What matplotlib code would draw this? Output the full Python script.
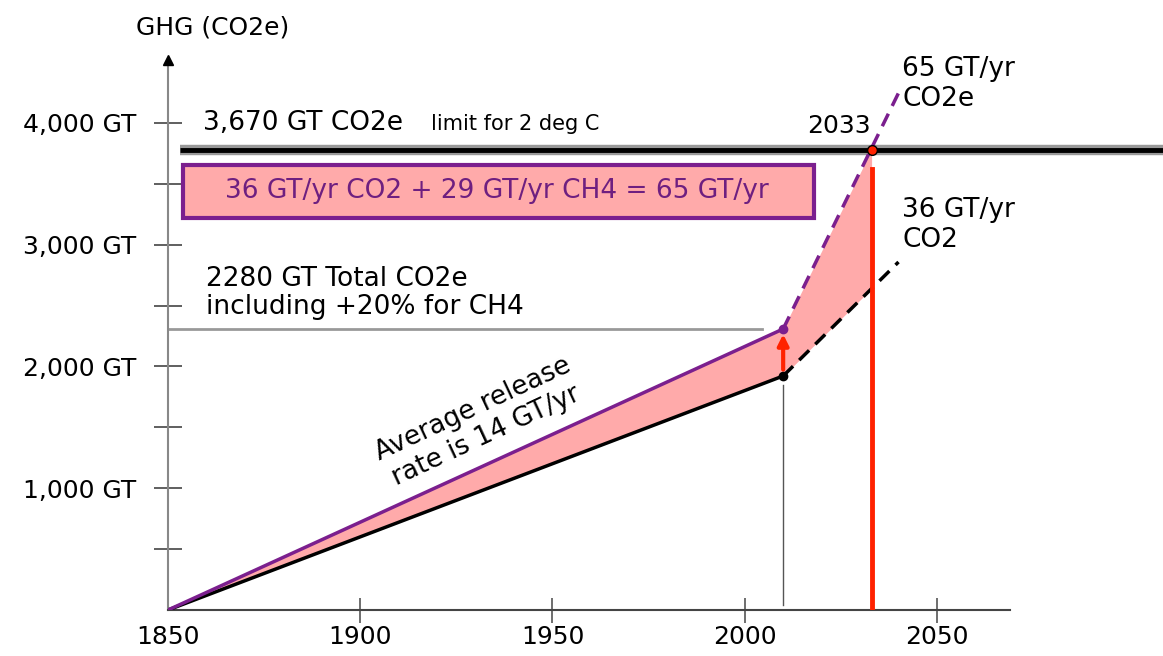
import numpy as np
import matplotlib.pyplot as plt
from matplotlib.patches import Rectangle

plt.rcParams['font.family'] = ['DejaVu Sans']

# values
years_hist = [1850, 2010]
co2_hist = [0, 1922]
co2e_hist = [0, 2308]
years_proj = [2010, 2040]
co2_proj = [1922, 2858]
co2e_proj = [2308, 4246]
fill_years = [1850, 2010, 2033]
fill_top = [0, 2308, 3780]
fill_bottom = [0, 1922, 2640]
limit_line = 3780
cross_year = 2033
red_top = 3620
total_2280 = 2308

xticks = [1850, 1900, 1950, 2000, 2050]
yticks = [500, 1000, 1500, 2000, 2500, 3000, 3500, 4000]
ylabels = ['', '1,000 GT', '', '2,000 GT', '', '3,000 GT', '', '4,000 GT']

purple = '#7b1f8e'
pink = '#ffaaaa'
red = '#ff2200'

fig = plt.figure(figsize=(11.63, 6.56), dpi=100)
ax = fig.add_axes([168/1163, 46/656, (1010-168)/1163, (610-60)/656])
ax.set_xlim(1850, 2069)
ax.set_ylim(0, 4517)

for s in ['top', 'right']:
    ax.spines[s].set_visible(False)
ax.spines['left'].set_color('#888888')
ax.spines['left'].set_linewidth(1.5)
ax.spines['bottom'].set_color('#444444')
ax.spines['bottom'].set_linewidth(1.5)
# arrow on top of y axis
ax.plot([1850], [4517], marker='^', color='black', markersize=7, clip_on=False, zorder=5)

ax.set_xticks(xticks)
ax.set_xticklabels([str(x) for x in xticks], fontsize=18)
ax.xaxis.get_major_ticks()[0].tick1line.set_visible(False)
ax.tick_params(axis='x', direction='inout', length=18, width=1.2, color='#555555', pad=2)
ax.set_yticks(yticks)
ax.set_yticklabels(ylabels, fontsize=18)
ax.tick_params(axis='y', direction='inout', length=20, width=1.2, color='#444444', pad=13)

# limit line (grey halo + black core), runs past the axes
ax.plot([1853, 2110], [limit_line, limit_line], color='#999999', lw=7.5, clip_on=False, solid_capstyle='butt', zorder=3)
ax.plot([1853, 2110], [limit_line, limit_line], color='black', lw=3.5, clip_on=False, solid_capstyle='butt', zorder=3)

# shaded gap between CO2 and CO2e
ax.fill_between(fill_years, fill_bottom, fill_top, color=pink, lw=0, zorder=1)

# grey guides
ax.plot([1850, 2004.5], [total_2280, total_2280], color='#999999', lw=2, zorder=2)
ax.plot([2010, 2010], [40, 1850], color='#555555', lw=1, zorder=2)

# lines
ax.plot(years_hist, co2_hist, color='black', lw=2.5, zorder=4)
ax.plot(years_hist, co2e_hist, color=purple, lw=2.5, zorder=4)
ax.plot(years_proj, co2_proj, color='black', lw=2.5, ls=(0, (4, 2.5)), zorder=4)
ax.plot(years_proj, co2e_proj, color=purple, lw=2.5, ls=(0, (4, 2.5)), zorder=4)

ax.plot([2010], [co2_hist[1]], 'o', color='black', markersize=6, zorder=6)
ax.plot([2010], [co2e_hist[1]], 'o', color=purple, markersize=6, zorder=6)
ax.annotate('', xy=(2010, co2e_hist[1] - 20), xytext=(2010, co2_hist[1] + 30),
            arrowprops=dict(arrowstyle='-|>', color=red, lw=3, mutation_scale=16), zorder=6)

# red vertical line at crossing year
ax.plot([cross_year, cross_year], [0, red_top], color=red, lw=3.5, zorder=5)
ax.plot([cross_year], [limit_line], 'o', color=red, markeredgecolor='black', markersize=7, zorder=7)

# texts
fig.text(213/1163, 1 - 27/656, 'GHG (CO2e)', ha='center', va='center', fontsize=18)
ax.text(1859, 4000, '3,670 GT CO2e', ha='left', va='center', fontsize=19)
ax.text(1918.5, 3990, 'limit for 2 deg C', ha='left', va='center', fontsize=15)
ax.text(2024.5, 3975, '2033', ha='center', va='center', fontsize=18)
ax.text(2041, 4320, '65 GT/yr\nCO2e', ha='left', va='center', fontsize=19, linespacing=1.2, clip_on=False)
ax.text(2041, 3165, '36 GT/yr\nCO2', ha='left', va='center', fontsize=19, linespacing=1.2, clip_on=False)
ax.text(1860, 2600, '2280 GT Total CO2e\nincluding +20% for CH4', ha='left', va='center', fontsize=19, linespacing=1.1)
ax.text(1931, 1540, 'Average release\nrate is 14 GT/yr', ha='center', va='center', fontsize=19,
        rotation=25, rotation_mode='anchor', linespacing=1.2)
ax.add_patch(Rectangle((1853.9, 3220), 164.2, 435, fc=pink, ec=purple, lw=3, zorder=3))
ax.text(1935.5, 3441, '36 GT/yr CO2 + 29 GT/yr CH4 = 65 GT/yr', ha='center', va='center', fontsize=19,
        color='#6e1f80', zorder=4)

fig.savefig('out.png', dpi=100)
